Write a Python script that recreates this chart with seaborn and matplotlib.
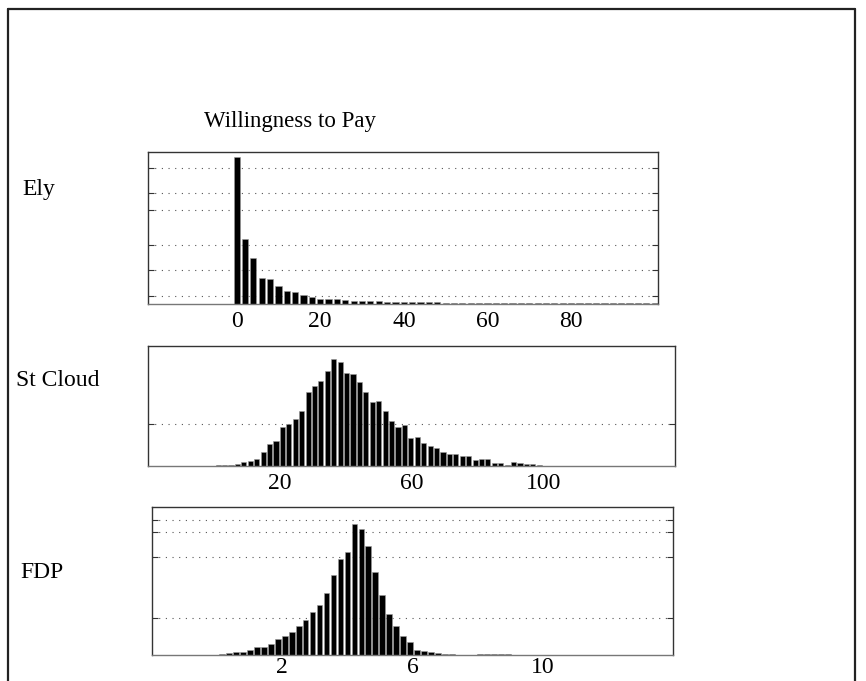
import numpy as np
import pandas as pd
import matplotlib
matplotlib.use("Agg")
import matplotlib.pyplot as plt
from matplotlib.lines import Line2D
import seaborn as sns

sns.set_theme(style="white")
plt.rcParams['font.family'] = ['Liberation Serif', 'DejaVu Serif']
plt.rcParams['text.color'] = 'black'
plt.rcParams['xtick.color'] = 'black'

# ---- data (bar heights, arbitrary frequency units) ----
ely_freq = [441, 195, 139, 78, 75, 54, 39, 37, 26, 21, 15, 15, 15, 12, 10, 10, 8, 8,
            7, 7, 6, 6, 5, 5, 5, 4, 4, 3, 3, 3, 2, 2, 2, 2, 2, 2, 2, 2, 2, 2, 2, 2,
            2, 2, 2, 2, 2, 2, 2, 2, 2]
ely_start, ely_width = 0.0, 2.0

stcloud_freq = [2, 2, 2, 7, 12, 14, 22, 42, 66, 76, 117, 126, 140, 165, 221, 240, 255,
                285, 320, 311, 280, 277, 251, 221, 191, 195, 164, 134, 116, 122, 83, 86,
                70, 60, 54, 42, 36, 36, 31, 31, 18, 20, 20, 10, 10, 3, 11, 8, 6, 6, 2]
stcloud_start, stcloud_width = 1.3, 1.95

fdp_freq = [3, 6, 9, 9, 14, 25, 25, 32, 48, 58, 70, 86, 106, 129, 150, 186, 239, 288,
            308, 393, 378, 326, 250, 180, 124, 88, 56, 38, 16, 11, 8, 6, 3, 3, 0, 0, 0,
            2, 2, 2, 2, 2]
fdp_start, fdp_width = 0.15, 0.214

ely_ticks = [0, 20, 40, 60, 80]
stcloud_ticks = [20, 60, 100]
fdp_ticks = [2, 6, 10]

ely_grid = [25, 102, 178, 280, 333, 408]
stcloud_grid = [125]
fdp_grid = [111, 294, 369, 404]


def hist_panel(ax, freq, start, width, shrink, xlim, ylim, xticks, grid, pad=5):
    centers = start + width * np.arange(len(freq))
    df = pd.DataFrame({'wtp': centers, 'freq': freq})
    lo = centers[0] - width / 2
    hi = centers[-1] + width / 2
    sns.histplot(data=df, x='wtp', weights='freq', binwidth=width, binrange=(lo, hi),
                 shrink=shrink, color='black', alpha=1, edgecolor='#9a9a9a',
                 linewidth=0.4, ax=ax)
    ax.set_xlim(*xlim)
    ax.set_ylim(*ylim)
    ax.set_xlabel('')
    ax.set_ylabel('')
    ax.set_xticks(xticks)
    ax.set_xticklabels([str(t) for t in xticks], fontsize=17)
    ax.set_yticks(grid)
    ax.set_yticklabels([])
    ax.tick_params(axis='x', length=0, pad=pad)
    ax.tick_params(axis='y', left=True, right=True, direction='in', length=4,
                   color='#333333', width=0.8)
    ax.yaxis.grid(True, linestyle=(0, (1, 5)), color='#555555', linewidth=0.8)
    ax.xaxis.grid(False)
    ax.set_axisbelow(True)
    for s in ax.spines.values():
        s.set_visible(True)
        s.set_color('#333333')
        s.set_linewidth(1.0)
    ax.spines['bottom'].set_color('#777777')


fig = plt.figure(figsize=(8.66, 6.81), dpi=100)

ax1 = fig.add_axes([148 / 866, 1 - 304 / 681, 510 / 866, 152 / 681])
hist_panel(ax1, ely_freq, ely_start, ely_width, 0.74, (-21.2, 100.8), (0, 455),
           ely_ticks, ely_grid)

ax2 = fig.add_axes([148 / 866, 1 - 466 / 681, 527 / 866, 120 / 681])
hist_panel(ax2, stcloud_freq, stcloud_start, stcloud_width, 0.8, (-20, 140), (0, 360),
           stcloud_ticks, stcloud_grid)

ax3 = fig.add_axes([152 / 866, 1 - 655 / 681, 521 / 866, 148 / 681])
hist_panel(ax3, fdp_freq, fdp_start, fdp_width, 0.82, (-2, 14), (0, 444),
           fdp_ticks, fdp_grid, pad=1.5)

fig.text(290 / 866, 1 - 122 / 681, 'Willingness to Pay', ha='center', va='center',
         fontsize=16.5)
fig.text(22 / 866, 1 - 190 / 681, 'Ely', ha='left', va='center', fontsize=17)
fig.text(16 / 866, 1 - 380 / 681, 'St Cloud', ha='left', va='center', fontsize=17)
fig.text(20 / 866, 1 - 573 / 681, 'FDP', ha='left', va='center', fontsize=17)

# outer frame
fx0, fx1, fy0 = 8 / 866, 855 / 866, 1 - 9 / 681
for xs, ys in [([fx0, fx0], [0, fy0]), ([fx0, fx1], [fy0, fy0]), ([fx1, fx1], [0, fy0])]:
    fig.add_artist(Line2D(xs, ys, transform=fig.transFigure, color='#222222', lw=1.6))

fig.savefig('out.png', dpi=100, facecolor='white')
